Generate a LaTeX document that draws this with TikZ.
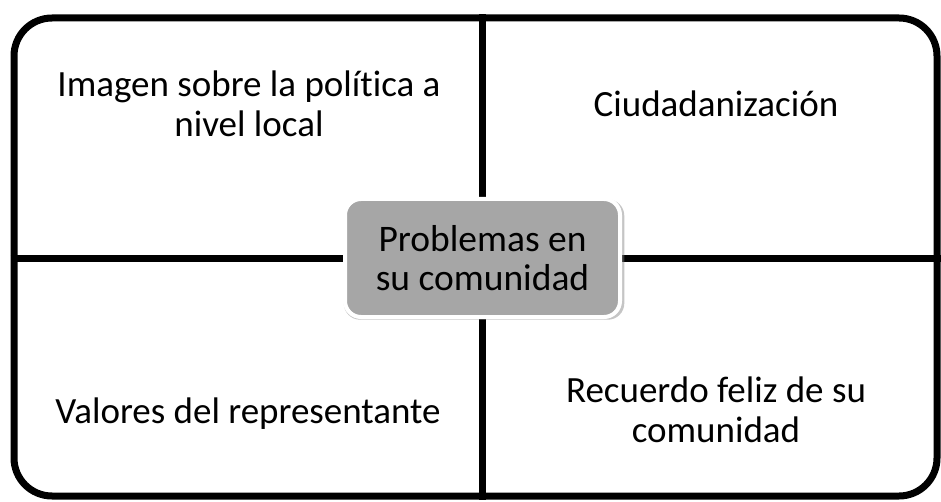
\documentclass[tikz,border=0pt]{standalone}
\usepackage{fontspec}
\setmainfont{Carlito}[Ligatures=NoCommon]
\usetikzlibrary{shadows}

\begin{document}
\begin{tikzpicture}[x=1pt,y=1pt]
\tikzset{marco/.style={draw=black, line width=7pt, rounded corners=38pt, minimum width=923pt, minimum height=478pt, inner sep=0pt, fill=white, drop shadow={opacity=0.3, shadow xshift=2pt, shadow yshift=-2pt}}}
\tikzset{texto/.style={align=center, font=\fontsize{37}{40}\selectfont, inner sep=0pt, anchor=base}}
\tikzset{centro/.style={draw=white, line width=4pt, fill=gray!70, rounded corners=16pt, minimum width=275pt, minimum height=118pt, align=center, font=\fontsize{37.5}{39}\selectfont, drop shadow={opacity=0.45, shadow xshift=1.5pt, shadow yshift=-1.5pt, shadow scale=1.02}}}
\useasboundingbox (0,0) rectangle (941,501);
\node[marco] (marco) at (475.5,244) {};
\coordinate (vx) at (482,0);
\coordinate (hy) at (0,242);
\draw[line width=7pt] (marco.north -| vx) -- (marco.south -| vx);
\draw[line width=7pt] (marco.west |- hy) -- (marco.east |- hy);
\node[texto] (imagen) at (249,364) {Imagen sobre la política a\\nivel local};
\node[texto] (ciudad) at (716,384) {Ciudadanización};
\node[texto] (valores) at (248,78) {Valores del representante};
\node[texto] (recuerdo) at (716,59) {Recuerdo feliz de su\\comunidad};
\node[centro, anchor=center] (problemas) at (482.5,243) {Problemas en\\su comunidad};
\end{tikzpicture}
\end{document}
